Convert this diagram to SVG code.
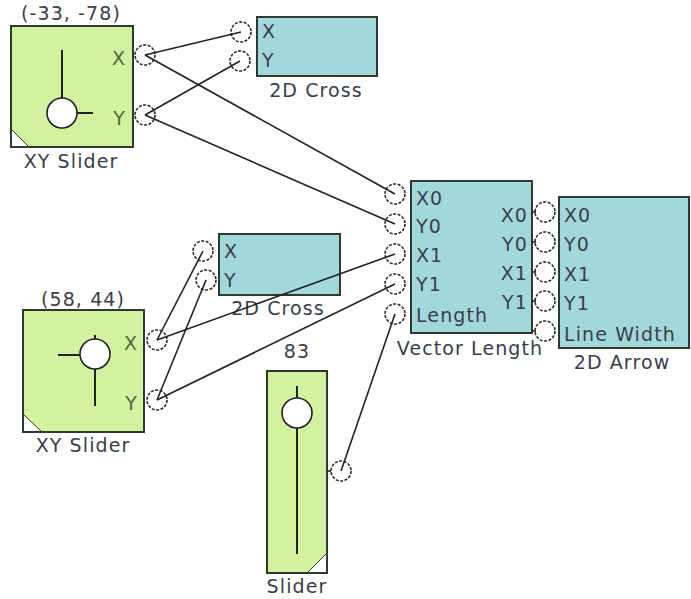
<svg xmlns="http://www.w3.org/2000/svg" width="691" height="599" viewBox="0 0 691 599">
<style>
text{font-family:"DejaVu Sans",Verdana,sans-serif;font-size:19px;letter-spacing:1.1px;fill:#3b3d4a}
.gl{fill:#4d6a3c}
.g{fill:#d2f2a0;stroke:#2e3a2e;stroke-width:2}
.b{fill:#a2d8dc;stroke:#2e3a2e;stroke-width:2}
.k{stroke:#222;stroke-width:2;fill:none}
.w{fill:#fff;stroke:#222;stroke-width:1.6}
.t{fill:#fff;stroke:none}
.p{fill:#fff;stroke:#2a2a2a;stroke-width:1.6;stroke-dasharray:3 1.5}
.c{stroke:#222;stroke-width:1.6;fill:none}
.e{text-anchor:end}
.m{text-anchor:middle}
</style>
<rect width="691" height="599" fill="#fff"/>

<g id="xyslider1">
<text class="m" x="71" y="20">(-33, -78)</text>
<rect class="g" x="11" y="26" width="122" height="121"/>
<path class="t" d="M12,146 L12,130 L28,146 Z"/>
<path d="M12,130 L28,146" stroke="#2e3a2e" stroke-width="1"/>
<line class="k" x1="62" y1="50" x2="62" y2="98"/>
<line class="k" x1="77" y1="113" x2="93" y2="113"/>
<circle class="w" cx="62" cy="113" r="15"/>
<text class="e gl" x="126" y="65">X</text>
<text class="e gl" x="126" y="125">Y</text>
<text class="m" x="71" y="168">XY Slider</text>
<circle class="p" cx="145" cy="55" r="10"/>
<circle class="p" cx="145" cy="115" r="10"/>
</g>

<g id="cross1">
<rect class="b" x="257" y="17" width="120" height="59"/>
<text x="262" y="38">X</text>
<text x="262" y="67">Y</text>
<text class="m" x="316" y="97">2D Cross</text>
<circle class="p" cx="241" cy="32" r="10"/>
<circle class="p" cx="240" cy="61" r="10"/>
</g>

<g id="vectorlength">
<rect class="b" x="411" y="181" width="121" height="152"/>
<text x="416" y="205">X0</text>
<text x="416" y="233">Y0</text>
<text x="416" y="262">X1</text>
<text x="416" y="291">Y1</text>
<text x="416" y="322">Length</text>
<text class="e" x="528" y="222">X0</text>
<text class="e" x="528" y="251">Y0</text>
<text class="e" x="528" y="280">X1</text>
<text class="e" x="528" y="309">Y1</text>
<text class="m" x="470" y="355">Vector Length</text>
<circle class="p" cx="395" cy="194" r="10"/>
<circle class="p" cx="395" cy="224" r="10"/>
<circle class="p" cx="395" cy="254" r="10"/>
<circle class="p" cx="395" cy="284" r="10"/>
<circle class="p" cx="395" cy="314" r="10"/>
</g>

<g id="arrow2d">
<rect class="b" x="559" y="197" width="130" height="151"/>
<text x="564" y="222">X0</text>
<text x="564" y="251">Y0</text>
<text x="564" y="281">X1</text>
<text x="564" y="310">Y1</text>
<text x="564" y="341">Line Width</text>
<text class="m" x="622" y="369">2D Arrow</text>
<circle class="p" cx="545" cy="212" r="10"/>
<circle class="p" cx="545" cy="242" r="10"/>
<circle class="p" cx="545" cy="272" r="10"/>
<circle class="p" cx="545" cy="301" r="10"/>
<circle class="p" cx="545" cy="331" r="10"/>
</g>

<g id="xyslider2">
<text class="m" x="83" y="306">(58, 44)</text>
<rect class="g" x="23" y="310" width="121" height="122"/>
<path class="t" d="M24,431 L24,415 L41,431 Z"/>
<path d="M24,415 L41,431" stroke="#2e3a2e" stroke-width="1"/>
<line class="k" x1="58" y1="355" x2="80" y2="355"/>
<line class="k" x1="95" y1="335" x2="95" y2="340"/>
<line class="k" x1="95" y1="369" x2="95" y2="406"/>
<circle class="w" cx="95" cy="354" r="15"/>
<text class="e gl" x="138" y="350">X</text>
<text class="e gl" x="138" y="410">Y</text>
<text class="m" x="83" y="452">XY Slider</text>
<circle class="p" cx="157" cy="340" r="10"/>
<circle class="p" cx="157" cy="400" r="10"/>
</g>

<g id="cross2">
<rect class="b" x="219" y="234" width="121" height="61"/>
<text x="224" y="258">X</text>
<text x="224" y="287">Y</text>
<text class="m" x="278" y="315">2D Cross</text>
<circle class="p" cx="203" cy="251" r="10"/>
<circle class="p" cx="206" cy="280" r="10"/>
</g>

<g id="slider">
<text class="m" x="297" y="358">83</text>
<rect class="g" x="267" y="371" width="60" height="202"/>
<path class="t" d="M326,572 L326,554 L308,572 Z"/>
<path d="M326,554 L308,572" stroke="#2e3a2e" stroke-width="1"/>
<line class="k" x1="297" y1="386" x2="297" y2="554"/>
<circle class="w" cx="297" cy="413" r="15"/>
<text class="m" x="297" y="593">Slider</text>
<circle class="p" cx="341" cy="471" r="10"/>
</g>

<g id="connectors">
<line class="c" x1="145" y1="55" x2="241" y2="32"/>
<line class="c" x1="145" y1="115" x2="240" y2="61"/>
<line class="c" x1="145" y1="55" x2="395" y2="194"/>
<line class="c" x1="145" y1="115" x2="395" y2="224"/>
<line class="c" x1="157" y1="340" x2="203" y2="251"/>
<line class="c" x1="157" y1="400" x2="206" y2="280"/>
<line class="c" x1="157" y1="340" x2="395" y2="254"/>
<line class="c" x1="157" y1="400" x2="395" y2="284"/>
<line class="c" x1="341" y1="471" x2="395" y2="314"/>
<line class="c" x1="532" y1="212" x2="536" y2="212"/>
<line class="c" x1="532" y1="242" x2="536" y2="242"/>
<line class="c" x1="532" y1="272" x2="536" y2="272"/>
<line class="c" x1="532" y1="301" x2="536" y2="301"/>
<line class="c" x1="532" y1="331" x2="536" y2="331"/>
<line class="c" x1="327" y1="471" x2="331" y2="471"/>
</g>
</svg>
